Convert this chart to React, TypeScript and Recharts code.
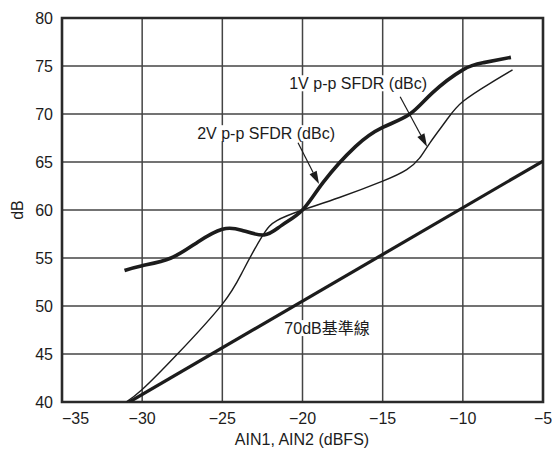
import React from 'react';
import { LineChart, Line, XAxis, YAxis, CartesianGrid, ReferenceLine, ReferenceDot, ReferenceArea } from 'recharts';

// axis ticks
const xTicks = [-35, -30, -25, -20, -15, -10, -5];
const yTicks = [40, 45, 50, 55, 60, 65, 70, 75, 80];

// 2V p-p SFDR (thick curve)
const sfdr2V = [
  { x: -31.1, y: 53.7 },
  { x: -30, y: 54.2 },
  { x: -28.2, y: 55.0 },
  { x: -26.5, y: 56.7 },
  { x: -25, y: 58.0 },
  { x: -23.8, y: 57.9 },
  { x: -22.4, y: 57.4 },
  { x: -21.3, y: 58.4 },
  { x: -20, y: 60.0 },
  { x: -18.7, y: 62.9 },
  { x: -16.7, y: 66.6 },
  { x: -15, y: 68.6 },
  { x: -13.3, y: 70.0 },
  { x: -11.9, y: 72.2 },
  { x: -10, y: 74.6 },
  { x: -8.7, y: 75.35 },
  { x: -7, y: 75.9 },
];

// 1V p-p SFDR (thin curve)
const sfdr1V = [
  { x: -31, y: 40 },
  { x: -30, y: 41.3 },
  { x: -27.8, y: 45.0 },
  { x: -25, y: 50.2 },
  { x: -23.7, y: 53.7 },
  { x: -22.5, y: 57.3 },
  { x: -21.6, y: 58.9 },
  { x: -20, y: 60.0 },
  { x: -17.7, y: 61.3 },
  { x: -15, y: 63.0 },
  { x: -13.5, y: 64.2 },
  { x: -12.7, y: 65.4 },
  { x: -12.05, y: 67.0 },
  { x: -11, y: 69.4 },
  { x: -10, y: 71.3 },
  { x: -8.3, y: 73.2 },
  { x: -6.9, y: 74.6 },
];

// 70dB reference line
const baseline70 = [
  { x: -30.8, y: 40 },
  { x: -5, y: 65.1 },
];

// annotations
const notes = [
  { text: '1V p-p SFDR (dBc)', x: -16.53, y: 73.2, w: 142 },
  { text: '2V p-p SFDR (dBc)', x: -22.27, y: 68.0, w: 140 },
  { text: '70dB基準線', x: -18.47, y: 47.7, w: 88 },
];
const arrows = [
  { from: { x: -13.91, y: 71.8 }, to: { x: -12.23, y: 66.6 } },
  { from: { x: -20.28, y: 67.0 }, to: { x: -18.97, y: 62.7 } },
];

const FONT = '"Liberation Sans", Arial, "Noto Sans CJK TC", sans-serif';
const INK = '#1c1c1c';
const FS = 16;

const XTick = (p: any) => (
  <text x={p.x} y={424} textAnchor={p.index === 0 ? 'start' : 'middle'} fontSize={FS} fontFamily={FONT} fill={INK}>
    {String(p.payload.value).replace('-', '\u2212')}
  </text>
);

const YTick = (p: any) => (
  <text x={53} y={p.y + 5.5} textAnchor="end" fontSize={FS} fontFamily={FONT} fill={INK}>
    {p.payload.value}
  </text>
);

const XTitle = () => (
  <text x={302} y={445} textAnchor="middle" fontSize={FS} fontFamily={FONT} fill={INK}>
    AIN1, AIN2 (dBFS)
  </text>
);

const YTitle = () => (
  <text x={23} y={210} textAnchor="middle" fontSize={FS} fontFamily={FONT} fill={INK} transform="rotate(-90, 23, 210)">
    dB
  </text>
);

const noteShape = (text: string, w: number) => (p: any) => (
  <g>
    <rect x={p.cx - w / 2} y={p.cy - 8} width={w} height={16} fill="#fff" />
    <text x={p.cx} y={p.cy + 5.5} textAnchor="middle" fontSize={FS} fontFamily={FONT} fill={INK}>
      {text}
    </text>
  </g>
);

const arrowShape = (p: any) => {
  const { x1, y1, x2, y2 } = p;
  const dx = x2 - x1, dy = y2 - y1;
  const len = Math.hypot(dx, dy) || 1;
  const ux = dx / len, uy = dy / len;
  const hl = 13, hw = 4;
  const bx = x2 - ux * hl, by = y2 - uy * hl;
  return (
    <g>
      <line x1={x1} y1={y1} x2={bx} y2={by} stroke={INK} strokeWidth={1.2} />
      <polygon
        points={`${x2},${y2} ${bx - uy * hw},${by + ux * hw} ${bx + uy * hw},${by - ux * hw}`}
        fill={INK}
      />
    </g>
  );
};

export default function App() {
  return (
    <div style={{ position: 'absolute', left: 0, top: 0, width: 552, height: 450, background: '#fff' }}>
      <LineChart width={552} height={450} margin={{ top: 18, right: 9, left: 0, bottom: 0 }}>
        <CartesianGrid stroke="#444" strokeWidth={1.5} />
        <XAxis
          type="number"
          dataKey="x"
          domain={[-35, -5]}
          ticks={xTicks}
          height={48}
          axisLine={false}
          tickLine={false}
          tick={<XTick />}
          label={<XTitle />}
          allowDataOverflow
        />
        <YAxis
          type="number"
          dataKey="y"
          domain={[40, 80]}
          ticks={yTicks}
          width={62}
          axisLine={false}
          tickLine={false}
          tick={<YTick />}
          label={<YTitle />}
          allowDataOverflow
        />
        <Line data={baseline70} dataKey="y" type="linear" stroke={INK} strokeWidth={3.2} dot={false} isAnimationActive={false} />
        <Line data={sfdr1V} dataKey="y" type="natural" stroke={INK} strokeWidth={1.4} dot={false} isAnimationActive={false} />
        <Line data={sfdr2V} dataKey="y" type="natural" stroke={INK} strokeWidth={3.6} dot={false} isAnimationActive={false} />
        {notes.map((n) => (
          <ReferenceDot key={n.text} x={n.x} y={n.y} r={0} shape={noteShape(n.text, n.w)} />
        ))}
        {arrows.map((a, i) => (
          <ReferenceLine key={i} segment={[a.from, a.to]} shape={arrowShape} />
        ))}
        <ReferenceArea x1={-35} x2={-5} y1={40} y2={80} fill="none" stroke="#2a2a2a" strokeWidth={2.6} />
      </LineChart>
    </div>
  );
}
